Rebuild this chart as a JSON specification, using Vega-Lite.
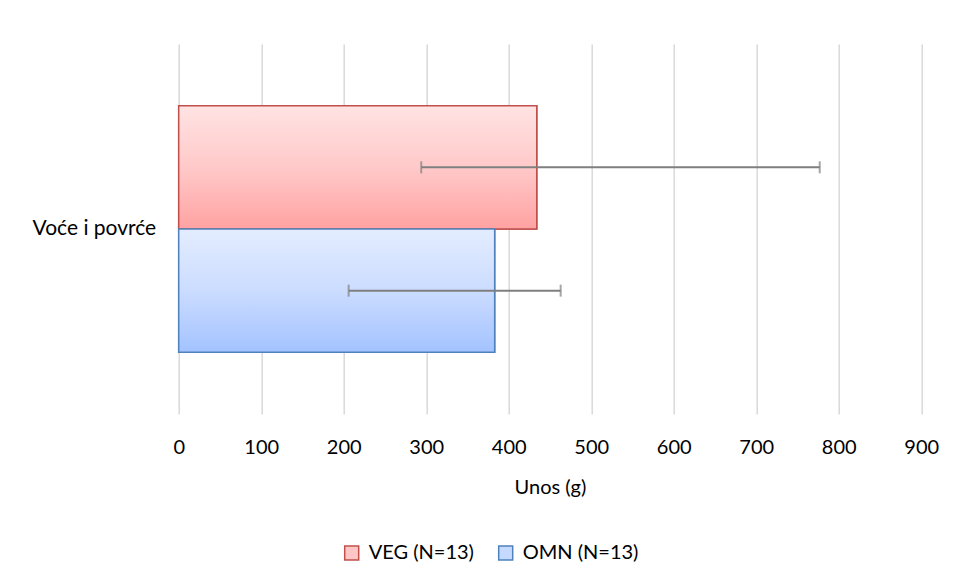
{
  "$schema": "https://vega.github.io/schema/vega-lite/v6.json",
  "autosize": {"type": "none"},
  "padding": {"left": 178.7, "top": 44, "right": 33.8, "bottom": 168},
  "width": 742.5,
  "height": 370,
  "background": "white",
  "config": {
    "view": {"stroke": null},
    "font": "Lato",
    "text": {"font": "Lato"}
  },
  "data": {
    "values": [
      {"cat": "Voće i povrće", "series": "VEG (N=13)", "value": 434, "lo": 294, "hi": 777},
      {"cat": "Voće i povrće", "series": "OMN (N=13)", "value": 383, "lo": 206, "hi": 463}
    ]
  },
  "encoding": {
    "y": {
      "field": "cat", "type": "nominal", "title": null,
      "scale": {"paddingOuter": 0.25, "paddingInner": 0},
      "axis": {"domain": false, "ticks": false, "labelPadding": 23, "labelFontSize": 21, "labelFont": "Lato", "labelColor": "#000000", "grid": false}
    },
    "yOffset": {
      "field": "series", "type": "nominal",
      "sort": ["VEG (N=13)", "OMN (N=13)"],
      "scale": {"paddingInner": 0, "paddingOuter": 0}
    }
  },
  "layer": [
    {
      "mark": {"type": "bar", "strokeWidth": 1.5},
      "encoding": {
        "x": {
          "field": "value", "type": "quantitative", "title": "Unos (g)",
          "scale": {"domain": [0, 900], "nice": false},
          "axis": {
            "values": [0, 100, 200, 300, 400, 500, 600, 700, 800, 900],
            "grid": true, "gridColor": "#d9d9d9", "gridWidth": 1.5,
            "domain": false, "ticks": false, "labelFlush": false,
            "labelFontSize": 20, "labelFont": "Lato", "labelColor": "#000000", "labelPadding": 23,
            "titleFontSize": 20, "titleFont": "Lato", "titleFontWeight": "normal", "titleColor": "#000000", "titlePadding": 20
          }
        },
        "fill": {
          "field": "series", "type": "nominal",
          "scale": {"domain": ["VEG (N=13)", "OMN (N=13)"], "range": ["#ffc6c6", "#c6daff"]},
          "legend": {
            "title": null, "orient": "none", "direction": "horizontal", "legendX": 163, "legendY": 499,
            "symbolType": "square", "symbolSize": 196, "symbolStrokeWidth": 1.5,
            "labelFontSize": 20, "labelFont": "Lato", "labelColor": "#000000", "labelOffset": 7, "columnPadding": 21
          }
        },
        "stroke": {
          "field": "series", "type": "nominal",
          "scale": {"domain": ["VEG (N=13)", "OMN (N=13)"], "range": ["#c0504d", "#4f81bd"]},
          "legend": {
            "title": null, "orient": "none", "direction": "horizontal", "legendX": 163, "legendY": 499,
            "symbolType": "square", "symbolSize": 196, "symbolStrokeWidth": 1.5,
            "labelFontSize": 20, "labelFont": "Lato", "labelColor": "#000000", "labelOffset": 7, "columnPadding": 21
          }
        }
      }
    },
    {
      "transform": [{"filter": "datum.series === 'VEG (N=13)'"}],
      "mark": {
        "type": "bar", "stroke": "#c0504d", "strokeWidth": 1.5,
        "fill": {"gradient": "linear", "x1": 0, "y1": 0, "x2": 0, "y2": 1,
          "stops": [{"offset": 0, "color": "#ffe3e3"}, {"offset": 0.5, "color": "#ffc9c9"}, {"offset": 1, "color": "#ffa2a2"}]}
      },
      "encoding": {"x": {"field": "value", "type": "quantitative"}}
    },
    {
      "transform": [{"filter": "datum.series === 'OMN (N=13)'"}],
      "mark": {
        "type": "bar", "stroke": "#4f81bd", "strokeWidth": 1.5,
        "fill": {"gradient": "linear", "x1": 0, "y1": 0, "x2": 0, "y2": 1,
          "stops": [{"offset": 0, "color": "#e4edff"}, {"offset": 0.5, "color": "#cbdcff"}, {"offset": 1, "color": "#a3c3ff"}]}
      },
      "encoding": {"x": {"field": "value", "type": "quantitative"}}
    },
    {
      "mark": {"type": "rule", "color": "#7f7f7f", "strokeWidth": 2},
      "encoding": {
        "x": {"field": "lo", "type": "quantitative"},
        "x2": {"field": "hi"}
      }
    },
    {
      "mark": {"type": "tick", "color": "#7f7f7f", "thickness": 2, "size": 12, "orient": "vertical"},
      "encoding": {"x": {"field": "lo", "type": "quantitative"}}
    },
    {
      "mark": {"type": "tick", "color": "#7f7f7f", "thickness": 2, "size": 12, "orient": "vertical"},
      "encoding": {"x": {"field": "hi", "type": "quantitative"}}
    }
  ]
}
